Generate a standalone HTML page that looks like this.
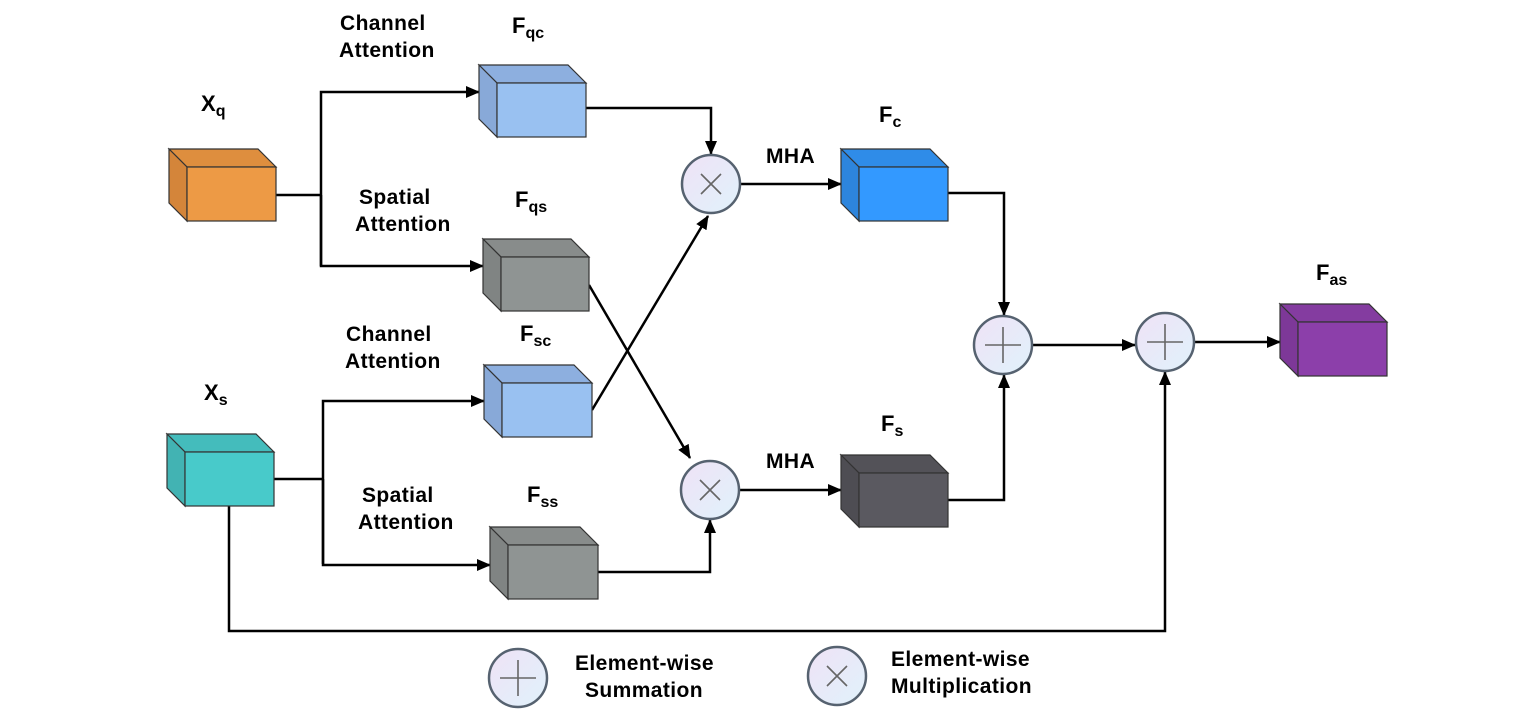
<!DOCTYPE html>
<html><head><meta charset="utf-8"><style>
body{margin:0;background:#fff}
svg{display:block}
text{font-family:"Liberation Sans",Arial,sans-serif;font-weight:bold;fill:#000}
</style></head><body>
<svg width="1538" height="718" viewBox="0 0 1538 718" xmlns="http://www.w3.org/2000/svg">
<defs>
<marker id="a" markerWidth="14" markerHeight="12" refX="13" refY="6" orient="auto" markerUnits="userSpaceOnUse">
<path d="M0,0 L14,6 L0,12 Z" fill="#000"/></marker>
<linearGradient id="g" x1="0" y1="0" x2="1" y2="1">
<stop offset="0" stop-color="#efe2f6"/><stop offset="1" stop-color="#e0f2fb"/></linearGradient>
</defs>
<g stroke="#000" stroke-width="2.5" fill="none">
<path d="M276,195 H321"/>
<path d="M321,266 V92 H479" marker-end="url(#a)"/>
<path d="M321,195 V266 H483" marker-end="url(#a)"/>
<path d="M586,108 H711 V154" marker-end="url(#a)"/>
<path d="M589,285 L690,458" marker-end="url(#a)"/>
<path d="M592,410 L708,216" marker-end="url(#a)"/>
<path d="M598,572 H710 V520" marker-end="url(#a)"/>
<path d="M741,184 H841" marker-end="url(#a)"/>
<path d="M740,490 H841" marker-end="url(#a)"/>
<path d="M948,193 H1004 V315" marker-end="url(#a)"/>
<path d="M948,500 H1004 V375" marker-end="url(#a)"/>
<path d="M1033,345 H1135" marker-end="url(#a)"/>
<path d="M1195,342 H1280" marker-end="url(#a)"/>
<path d="M229,506 V631 H1165 V372" marker-end="url(#a)"/>
<path d="M274,479 H323"/>
<path d="M323,564 V401 H484" marker-end="url(#a)"/>
<path d="M323,479 V565 H490" marker-end="url(#a)"/>
</g>
<g stroke="#333" stroke-width="1.2">
<g><path d="M169,149 H258 L276,167 H187 Z" fill="#de8e3e"/><path d="M169,149 L187,167 V221 L169,203 Z" fill="#d4853a"/><rect x="187" y="167" width="89" height="54" fill="#ed9a45"/></g>
<g><path d="M479,65 H568 L586,83 H497 Z" fill="#8dafdf"/><path d="M479,65 L497,83 V137 L479,119 Z" fill="#88a9d8"/><rect x="497" y="83" width="89" height="54" fill="#99c1f1"/></g>
<g><path d="M483,239 H571 L589,257 H501 Z" fill="#888c8b"/><path d="M483,239 L501,257 V311 L483,293 Z" fill="#808483"/><rect x="501" y="257" width="88" height="54" fill="#8f9493"/></g>
<g><path d="M484,365 H574 L592,383 H502 Z" fill="#8dafdf"/><path d="M484,365 L502,383 V437 L484,419 Z" fill="#88a9d8"/><rect x="502" y="383" width="90" height="54" fill="#99c1f1"/></g>
<g><path d="M167,434 H256 L274,452 H185 Z" fill="#44bcbc"/><path d="M167,434 L185,452 V506 L167,488 Z" fill="#42b3b3"/><rect x="185" y="452" width="89" height="54" fill="#48caca"/></g>
<g><path d="M490,527 H580 L598,545 H508 Z" fill="#888c8b"/><path d="M490,527 L508,545 V599 L490,581 Z" fill="#808483"/><rect x="508" y="545" width="90" height="54" fill="#8f9493"/></g>
<g><path d="M841,149 H930 L948,167 H859 Z" fill="#2f8ce8"/><path d="M841,149 L859,167 V221 L841,203 Z" fill="#2d85dd"/><rect x="859" y="167" width="89" height="54" fill="#3399ff"/></g>
<g><path d="M841,455 H930 L948,473 H859 Z" fill="#535258"/><path d="M841,455 L859,473 V527 L841,509 Z" fill="#4e4d53"/><rect x="859" y="473" width="89" height="54" fill="#5a5960"/></g>
<g><path d="M1280,304 H1369 L1387,322 H1298 Z" fill="#843ca0"/><path d="M1280,304 L1298,322 V376 L1280,358 Z" fill="#7d3898"/><rect x="1298" y="322" width="89" height="54" fill="#8c3faa"/></g>
</g>
<g fill="url(#g)" stroke="#566270" stroke-width="2.5">
<circle cx="711" cy="184" r="29"/><circle cx="710" cy="490" r="29"/>
<circle cx="1003" cy="345" r="29"/><circle cx="1165" cy="342" r="29"/>
<circle cx="518" cy="678" r="29"/><circle cx="837" cy="676" r="29"/>
</g>
<g stroke="#666" stroke-width="1.6">
<path d="M701,174 L721,194 M721,174 L701,194"/>
<path d="M700,480 L720,500 M720,480 L700,500"/>
<path d="M827,666 L847,686 M847,666 L827,686"/>
<path d="M985,345 H1021 M1003,327 V363"/>
<path d="M1147,342 H1183 M1165,324 V360"/>
<path d="M500,678 H536 M518,660 V696"/>
</g>
<g font-size="21" letter-spacing="0.4">
<text x="340" y="30">Channel</text><text x="339" y="57">Attention</text>
<text x="359" y="204">Spatial</text><text x="355" y="231">Attention</text>
<text x="346" y="341">Channel</text><text x="345" y="368">Attention</text>
<text x="362" y="502">Spatial</text><text x="358" y="529">Attention</text>
<text x="766" y="163">MHA</text><text x="766" y="468">MHA</text>
<text x="575" y="670">Element-wise</text><text x="585" y="697">Summation</text>
<text x="891" y="666">Element-wise</text><text x="891" y="693">Multiplication</text>
</g>
<g font-size="22">
<text x="201" y="111">X<tspan font-size="16" dy="5">q</tspan></text>
<text x="512" y="33">F<tspan font-size="16" dy="5">qc</tspan></text>
<text x="515" y="207">F<tspan font-size="16" dy="5">qs</tspan></text>
<text x="520" y="341">F<tspan font-size="16" dy="5">sc</tspan></text>
<text x="204" y="400">X<tspan font-size="16" dy="5">s</tspan></text>
<text x="527" y="502">F<tspan font-size="16" dy="5">ss</tspan></text>
<text x="879" y="122">F<tspan font-size="16" dy="5">c</tspan></text>
<text x="881" y="431">F<tspan font-size="16" dy="5">s</tspan></text>
<text x="1316" y="280">F<tspan font-size="16" dy="5">as</tspan></text>
</g>
</svg>
</body></html>
